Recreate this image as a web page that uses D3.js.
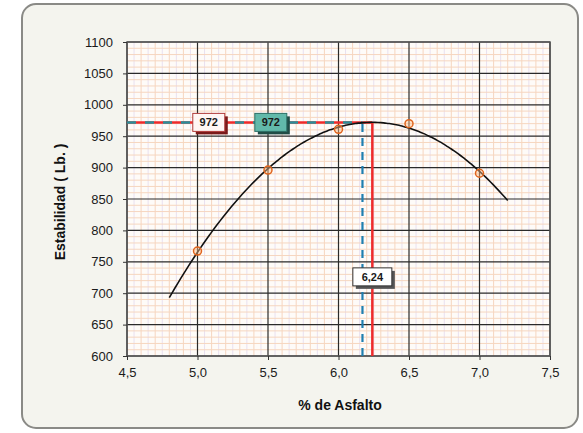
<!DOCTYPE html>
<html>
<head>
<meta charset="utf-8">
<script src="https://cdn.jsdelivr.net/npm/d3@7"></script>
<style>
  html, body { margin: 0; padding: 0; background: #ffffff; }
  svg { display: block; }
  text { font-family: "Liberation Sans", Arial, sans-serif; }
</style>
</head>
<body>
<svg id="chart" width="583" height="433"></svg>
<script>
// Ensayo Marshall: estabilidad vs. contenido de asfalto
const asfalto = [5.0, 5.5, 6.0, 6.5, 7.0];
const estabilidad = [767, 896, 961, 970, 891];

const xTicks = [4.5, 5.0, 5.5, 6.0, 6.5, 7.0, 7.5];
const yTicks = [600, 650, 700, 750, 800, 850, 900, 950, 1000, 1050, 1100];

// Rango de la curva de tendencia
const curvaDesde = 4.8;
const curvaHasta = 7.2;

// Óptimos
const optimoX = 6.24;
const optimoY = 972;
const optimoX2 = 6.17;
const optimoY2 = 972;

const svg = d3.select("#chart");
const m = { left: 127, right: 550, top: 42, bottom: 356 };

// Marco exterior
svg.append("rect")
  .attr("x", 22).attr("y", 4).attr("width", 556).attr("height", 424)
  .attr("rx", 14)
  .attr("fill", "#f4f4ee").attr("stroke", "#8a8a86").attr("stroke-width", 2);

const x = d3.scaleLinear().domain([4.5, 7.5]).range([m.left, m.right]);
const y = d3.scaleLinear().domain([600, 1100]).range([m.bottom, m.top]);

// Fondo del área de trazado
svg.append("rect")
  .attr("x", m.left).attr("y", m.top)
  .attr("width", m.right - m.left).attr("height", m.bottom - m.top)
  .attr("fill", "#fefbf8");

const grid = svg.append("g");

// Cuadrícula secundaria vertical (cada 0,05)
d3.range(0, 61).map(i => 4.5 + i * 0.05).forEach((v, i) => {
  if (i % 10 === 0) return;
  grid.append("line")
    .attr("x1", x(v)).attr("x2", x(v)).attr("y1", m.top).attr("y2", m.bottom)
    .attr("stroke", i % 2 === 0 ? "#f6d6bf" : "#e9e0f0")
    .attr("stroke-width", 1);
});
// Cuadrícula secundaria horizontal (cada 10)
d3.range(600, 1101, 10).forEach((v, i) => {
  if (i % 5 === 0) return;
  grid.append("line")
    .attr("x1", m.left).attr("x2", m.right).attr("y1", y(v)).attr("y2", y(v))
    .attr("stroke", "#f6d6bf").attr("stroke-width", 1);
});
// Cuadrícula principal
xTicks.forEach(v => {
  grid.append("line")
    .attr("x1", x(v)).attr("x2", x(v)).attr("y1", m.top).attr("y2", m.bottom)
    .attr("stroke", "#2a2a2a").attr("stroke-width", 1.2);
});
yTicks.forEach(v => {
  grid.append("line")
    .attr("x1", m.left).attr("x2", m.right).attr("y1", y(v)).attr("y2", y(v))
    .attr("stroke", "#2a2a2a").attr("stroke-width", 1.2);
});

// Marco del área de trazado
svg.append("rect")
  .attr("x", m.left).attr("y", m.top)
  .attr("width", m.right - m.left).attr("height", m.bottom - m.top)
  .attr("fill", "none").attr("stroke", "#555").attr("stroke-width", 1.5);

// Ejes
const fmt = d => d3.format(".1f")(d).replace(".", ",");
const xAxis = svg.append("g")
  .attr("transform", `translate(0,${m.bottom})`)
  .call(d3.axisBottom(x).tickValues(xTicks).tickFormat(fmt).tickSize(4).tickPadding(8));
const yAxis = svg.append("g")
  .attr("transform", `translate(${m.left},0)`)
  .call(d3.axisLeft(y).tickValues(yTicks).tickFormat(d3.format("d")).tickSize(4).tickPadding(10));
[xAxis, yAxis].forEach(a => {
  a.select(".domain").remove();
  a.selectAll(".tick line").attr("stroke", "#333");
  a.selectAll(".tick text")
    .attr("font-size", 13).attr("fill", "#1a1a1a")
    .attr("font-family", "'Liberation Sans', Arial, sans-serif");
});

// Títulos de los ejes
svg.append("text")
  .attr("x", 340).attr("y", 410)
  .attr("text-anchor", "middle")
  .attr("font-size", 14).attr("font-weight", "bold").attr("fill", "#111")
  .text("% de Asfalto");
svg.append("text")
  .attr("transform", "translate(65,202) rotate(-90)")
  .attr("text-anchor", "middle")
  .attr("font-size", 14).attr("font-weight", "bold").attr("fill", "#111")
  .text("Estabilidad ( Lb. )");

// Ajuste polinómico de segundo grado (mínimos cuadrados)
function ajusteCuadratico(xs, ys) {
  const n = xs.length;
  const s = k => d3.sum(xs, v => Math.pow(v, k));
  const sy = k => d3.sum(xs.map((v, i) => Math.pow(v, k) * ys[i]));
  const A = [[n, s(1), s(2)], [s(1), s(2), s(3)], [s(2), s(3), s(4)]];
  const B = [sy(0), sy(1), sy(2)];
  for (let i = 0; i < 3; i++) {
    for (let j = i + 1; j < 3; j++) {
      const f = A[j][i] / A[i][i];
      for (let k = i; k < 3; k++) A[j][k] -= f * A[i][k];
      B[j] -= f * B[i];
    }
  }
  const c = [0, 0, 0];
  for (let i = 2; i >= 0; i--) {
    let acc = B[i];
    for (let k = i + 1; k < 3; k++) acc -= A[i][k] * c[k];
    c[i] = acc / A[i][i];
  }
  return v => c[0] + c[1] * v + c[2] * v * v;
}
const tendencia = ajusteCuadratico(asfalto, estabilidad);
const curva = d3.range(0, 121).map(i => {
  const v = curvaDesde + (curvaHasta - curvaDesde) * i / 120;
  return [v, tendencia(v)];
});

// Líneas de los óptimos
const lineas = svg.append("g");
lineas.append("line")
  .attr("x1", x(4.5)).attr("x2", x(optimoX)).attr("y1", y(optimoY)).attr("y2", y(optimoY))
  .attr("stroke", "#ee2b2b").attr("stroke-width", 2.5);
lineas.append("line")
  .attr("x1", x(4.5)).attr("x2", x(optimoX2)).attr("y1", y(optimoY2)).attr("y2", y(optimoY2))
  .attr("stroke", "#2a8f9a").attr("stroke-width", 2.5)
  .attr("stroke-dasharray", "9,9");
lineas.append("line")
  .attr("x1", x(optimoX2)).attr("x2", x(optimoX2)).attr("y1", y(600)).attr("y2", y(optimoY2))
  .attr("stroke", "#1f7fb0").attr("stroke-width", 2.2)
  .attr("stroke-dasharray", "8,6");
lineas.append("line")
  .attr("x1", x(optimoX)).attr("x2", x(optimoX)).attr("y1", y(600)).attr("y2", y(optimoY))
  .attr("stroke", "#ee2b2b").attr("stroke-width", 2.5);

// Curva de tendencia
svg.append("path")
  .datum(curva)
  .attr("fill", "none").attr("stroke", "#111").attr("stroke-width", 1.6)
  .attr("d", d3.line().x(d => x(d[0])).y(d => y(d[1])).curve(d3.curveMonotoneX));

// Puntos del ensayo
svg.append("g").selectAll("circle")
  .data(asfalto.map((v, i) => [v, estabilidad[i]]))
  .join("circle")
  .attr("cx", d => x(d[0])).attr("cy", d => y(d[1])).attr("r", 4)
  .attr("fill", "rgba(255,190,140,0.45)").attr("stroke", "#e0641e").attr("stroke-width", 1.5);

// Etiquetas de valores
function etiqueta(cx, cy, txt, fondo, borde, sombra) {
  const g = svg.append("g");
  const w = txt.length * 7 + 11, h = 18;
  g.append("rect")
    .attr("x", cx - w / 2 + 3).attr("y", cy - h / 2 + 3).attr("width", w).attr("height", h)
    .attr("fill", sombra);
  g.append("rect")
    .attr("x", cx - w / 2).attr("y", cy - h / 2).attr("width", w).attr("height", h)
    .attr("fill", fondo).attr("stroke", borde).attr("stroke-width", 1);
  g.append("text")
    .attr("x", cx).attr("y", cy + 4)
    .attr("text-anchor", "middle")
    .attr("font-size", 11).attr("font-weight", "bold").attr("fill", "#1a1a1a")
    .text(txt);
}
etiqueta(x(5.08), y(optimoY), String(optimoY), "#fff6f4", "#b03a3a", "#7a1a1a");
etiqueta(x(5.52), y(optimoY2), String(optimoY2), "#62b9aa", "#2d6f66", "#204c46");
etiqueta(x(optimoX), y(726), d3.format(".2f")(optimoX).replace(".", ","), "#ffffff", "#333", "#555");
</script>
</body>
</html>
